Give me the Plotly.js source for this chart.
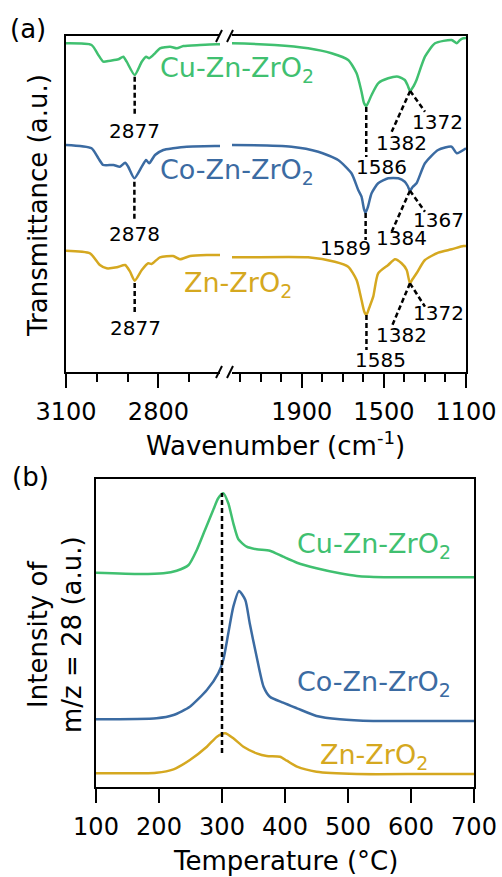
<!DOCTYPE html>
<html><head><meta charset="utf-8">
<script src="https://cdn.plot.ly/plotly-3.0.1.min.js"></script>
<style>html,body{margin:0;padding:0;background:#fff}#chart{width:502px;height:877px}</style>
</head><body><div id="chart"></div>
<script>
// ---------- Panel (a): FTIR spectra (offset, arbitrary units) ----------
const cuWn = [3100,3017,2995,2979,2957,2930,2914,2903,2877,2854,2840,2830,2811,2795,2762,2740,2719,2665,2611,2250,2032,1869,1755,1674,1633,1609,1597,1586,1575,1560,1528,1479,1430,1398,1385,1372,1355,1341,1300,1251,1170,1145,1129,1113,1100];
const cuT  = [328.7,327,317,310.3,311.3,312.7,315.3,310.3,297,310.3,315.3,313.7,318.7,323.7,325.3,323.7,326,327,327.7,328.7,327,323.7,318.7,312,298.7,280.3,269,266,270,277,288.7,293.7,295.3,292,287,281,286,292,315.3,328.7,332,328.7,332,333.7,334];

const coWn = [3100,3017,2995,2979,2946,2925,2908,2898,2878,2854,2840,2830,2811,2784,2752,2708,2600,2250,1950,1820,1723,1658,1625,1609,1597,1589,1578,1560,1528,1479,1430,1398,1384,1373,1360,1341,1300,1236,1170,1145,1100];
const coT  = [227,223.7,213.7,207,207,205.3,209.3,205.3,193.7,205.3,212,208.7,217,222,223.7,225.3,226,227,225.3,220.3,212,198.7,182,175.3,163,159.3,165,178.7,188.7,193.7,193.7,190.3,186,181.3,185,188.7,208.7,222,225.3,218.7,223.7];

const znWn = [3100,3022,2990,2968,2935,2908,2892,2877,2854,2833,2822,2795,2752,2730,2697,2643,2595,2250,1869,1739,1674,1633,1609,1595,1585,1572,1552,1528,1479,1446,1414,1389,1373,1360,1341,1300,1235,1170,1113,1100];
const znT  = [121.3,118.7,107,103.7,104.7,107,100.3,91.3,102,108.7,108,114.7,116,112.7,116,117,117,114.7,114.7,110.3,105.3,92,72,60,57,64,75.3,98.7,107,112.7,108.7,102,88.7,93,98.7,112,119.3,122.7,126,126];

const xTicksHigh = [3100,2800];
const xMinorHigh = [3000,2900,2700];
const xTicksLow = [1900,1500,1100];
const xMinorLow = [2200,2100,2000,1800,1700,1600,1400,1300,1200];

// peak marker lines: [x0,y0,x1,y1]
const peakLinesHigh = [[2877,295.3,2877,255.3],[2878,190.3,2878,150.3],[2877,89,2877,57]];
const peakLinesLow = [[1586,265,1586,215],[1372,281,1462,240.3],[1372,281,1300,260.3],
                      [1589,159,1589,132],[1373,181.3,1462,140.3],[1373,181.3,1300,160.3],
                      [1585,57,1585,22],[1373,88.7,1462,45.3],[1373,88.7,1300,65.3]];
// peak labels: [text,x,y]
const peakLabelsHigh = [['2877',2876,241],['2878',2876,138],['2877',2874,44.5]];
const peakLabelsLow = [['1586',1511,205.3],['1382',1414,228.7],['1372',1237,250.3],
                       ['1589',1685,124],['1384',1412,133.7],['1367',1232,152],
                       ['1585',1515,12],['1382',1412,37],['1372',1232,58.7]];

// ---------- Panel (b): TPD m/z = 28 ----------
const cuTemp = [100,170,207,228,247,260,273,286,294,302,310,318,326,339,355,376,397,419,450,487,514,567,619,700];
const cuSig  = [214.3,213,213.7,216.3,222,237,257,277,288.7,293.7,283.7,263.7,247.7,240.3,237.7,236.3,230.3,224.3,218.7,213.7,211,209.7,209.7,209.7];
const coTemp = [100,196,223,249,276,294,302,310,318,327,337,344,355,366,376,397,419,450,487,540,619,700];
const coSig  = [67.7,68.7,72,80.3,97,113.7,127,153.7,180.3,196,187,163.7,130.3,100.3,90.3,84.3,78.7,71,67.7,66,66,66];
const znTemp = [100,196,223,249,276,292,305,318,334,355,371,392,403,419,450,514,619,700];
const znSig  = [13.7,14.3,17.7,27,40.3,50.3,53.7,48.7,40.3,33.7,31,30.3,26.3,20.3,15.3,13,13,13];
const tpdPeakT = 300;
const tempTicks = [100,200,300,400,500,600,700];

const names = ['Cu-Zn-ZrO<sub>2</sub>','Co-Zn-ZrO<sub>2</sub>','Zn-ZrO<sub>2</sub>'];
const colors = ['#40c070','#3b6ba2','#d5a820'];

// ---------- build ----------
const W = 502, H = 877;
const px = v => v / W, py = v => 1 - v / H;
const FONT = 'DejaVu Sans';

const spectra = [[cuWn,cuT],[coWn,coT],[znWn,znT]];
const tpd = [[cuTemp,cuSig],[coTemp,coSig],[znTemp,znSig]];
const lineStyle = i => ({color:colors[i],width:2.5,shape:'spline',smoothing:0.6});
const traces = [];
spectra.forEach((s,i)=>{
  traces.push({x:s[0],y:s[1],xaxis:'x',yaxis:'y',mode:'lines',line:lineStyle(i),name:names[i],hoverinfo:'skip'});
  traces.push({x:s[0],y:s[1],xaxis:'x2',yaxis:'y2',mode:'lines',line:lineStyle(i),name:names[i],hoverinfo:'skip'});
});
tpd.forEach((s,i)=>{
  traces.push({x:s[0],y:s[1],xaxis:'x3',yaxis:'y3',mode:'lines',line:lineStyle(i),name:names[i],hoverinfo:'skip'});
});

const axLine = {showline:true,linewidth:2,linecolor:'#000',showgrid:false,zeroline:false};
const xTickStyle = {ticks:'outside',ticklen:14,tickwidth:2,tickcolor:'#000',tickfont:{size:24,family:FONT,color:'#000'},ticklabelstandoff:3};

const shapes = [];
const dash = {color:'#000',width:2.5,dash:'5px,3px'};
peakLinesHigh.forEach(l=>shapes.push({type:'line',xref:'x',yref:'y',x0:l[0],y0:l[1],x1:l[2],y1:l[3],line:dash}));
peakLinesLow.forEach(l=>shapes.push({type:'line',xref:'x2',yref:'y2',x0:l[0],y0:l[1],x1:l[2],y1:l[3],line:dash}));
shapes.push({type:'line',xref:'x3',yref:'y3',x0:tpdPeakT,x1:tpdPeakT,y0:34,y1:294,line:dash});
// axis break marks
[36,372].forEach(yy=>{
  [216,227].forEach(xx=>{
    shapes.push({type:'line',xref:'paper',yref:'paper',x0:px(xx),y0:py(yy+6),x1:px(xx+6),y1:py(yy-6),line:{color:'#000',width:2}});
  });
});

const annotations = [];
const C = {xanchor:'center',yanchor:'middle',showarrow:false};
peakLabelsHigh.forEach(a=>annotations.push(Object.assign({xref:'x',yref:'y',x:a[1],y:a[2],text:a[0],font:{size:20,family:FONT,color:'#000'}},C)));
peakLabelsLow.forEach(a=>annotations.push(Object.assign({xref:'x2',yref:'y2',x:a[1],y:a[2],text:a[0],font:{size:20,family:FONT,color:'#000'}},C)));
// series labels
[[2800,303],[2800,201],[2724,88]].forEach((p,i)=>annotations.push({xref:'x',yref:'y',x:p[0],y:p[1],xanchor:'left',yanchor:'middle',text:names[i],showarrow:false,font:{size:27,family:FONT,color:colors[i]}}));
[[541,242],[541,104],[541,31]].forEach((p,i)=>annotations.push(Object.assign({xref:'x3',yref:'y3',x:p[0],y:p[1],text:names[i],font:{size:27,family:FONT,color:colors[i]}},C)));
// titles and panel letters
const T = (text,x,y,extra)=>Object.assign({xref:'paper',yref:'paper',x:px(x),y:py(y),text:text,font:{size:26,family:FONT,color:'#000'}},C,extra||{});
annotations.push(T('Transmittance (a.u.)',38,206,{textangle:-90}));
annotations.push(T('Wavenumber (cm<sup>-1</sup>)',275,444));
annotations.push(T('Temperature (°C)',285,861));
annotations.push(T('Intensity of<br>m/z = 28 (a.u.)',55,635,{textangle:-90}));
annotations.push(T('(a)',28,29));
annotations.push(T('(b)',30,477));

const layout = {
  width:W,height:H,margin:{l:0,r:0,t:0,b:0},showlegend:false,
  paper_bgcolor:'#fff',plot_bgcolor:'rgba(0,0,0,0)',
  font:{family:FONT,size:24,color:'#000'},
  xaxis:Object.assign({},axLine,xTickStyle,{domain:[px(66),px(220)],range:[3100,2600],anchor:'y',mirror:true,
     tickmode:'array',tickvals:xTicksHigh,
     minor:{tickmode:'array',tickvals:xMinorHigh,ticks:'outside',ticklen:8,tickwidth:2,tickcolor:'#000',showgrid:false}}),
  xaxis2:Object.assign({},axLine,xTickStyle,{domain:[px(232),px(466)],range:[2240,1100],anchor:'y2',mirror:true,
     tickmode:'array',tickvals:xTicksLow,
     minor:{tickmode:'array',tickvals:xMinorLow,ticks:'outside',ticklen:8,tickwidth:2,tickcolor:'#000',showgrid:false}}),
  yaxis:Object.assign({},axLine,{domain:[py(372),py(36)],range:[0,336],anchor:'x',showticklabels:false,ticks:''}),
  yaxis2:Object.assign({},axLine,{domain:[py(372),py(36)],range:[0,336],anchor:'x2',side:'right',showticklabels:false,ticks:''}),
  xaxis3:Object.assign({},axLine,xTickStyle,{domain:[px(96),px(474)],range:[100,700],anchor:'y3',mirror:true,
     tickmode:'array',tickvals:tempTicks}),
  yaxis3:Object.assign({},axLine,{domain:[py(787),py(479)],range:[0,308],anchor:'x3',mirror:true,showticklabels:false,ticks:''}),
  shapes:shapes,annotations:annotations
};
Plotly.newPlot('chart',traces,layout,{displayModeBar:false,staticPlot:true});
</script></body></html>
